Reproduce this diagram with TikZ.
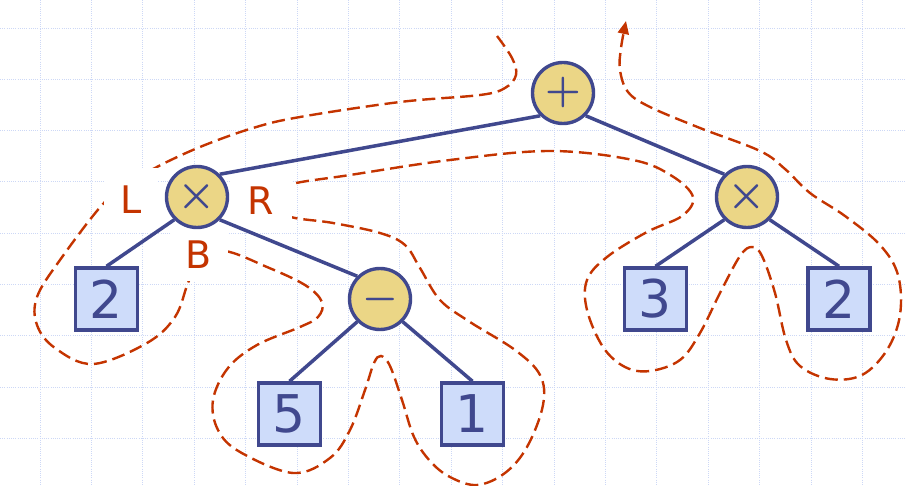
\documentclass[tikz,border=0pt]{standalone}
\usepackage{fontspec}
\newfontfamily\dv{DejaVu Sans}
\usetikzlibrary{arrows.meta}
\definecolor{navy}{RGB}{64,72,142}
\definecolor{opfill}{RGB}{235,214,134}
\definecolor{leaffill}{RGB}{206,220,250}
\definecolor{tour}{RGB}{196,52,0}
\definecolor{gridc}{RGB}{205,216,246}
\begin{document}
\begin{tikzpicture}[x=1pt,y=-1pt,
 opnode/.style={circle,draw=navy,fill=opfill,line width=3.4pt,minimum size=61pt,inner sep=0pt,text=navy},
 leafnode/.style={rectangle,draw=navy,fill=leaffill,line width=3.4pt,minimum size=62pt,inner sep=0pt,text=navy,font=\dv\fontsize{52}{52}\selectfont},
 treeedge/.style={navy,line width=3.5pt},
 lbl/.style={fill=white,text=tour,inner sep=0pt,font=\dv\fontsize{38}{38}\selectfont},
 tourline/.style={tour,line width=2.4pt,dash pattern=on 13pt off 6pt},
 gridline/.style={gridc,line width=0.9pt,dash pattern=on 1pt off 1.2pt}]
\useasboundingbox (0,0) rectangle (905,486);
\fill[white] (0,0) rectangle (905,486);
\foreach \i in {0,...,16} \draw[gridline] ({40+51.4*\i},0) -- ({40+51.4*\i},486);
\foreach \j in {0,...,8} \draw[gridline] (0,{28+51.3*\j}) -- (905,{28+51.3*\j});

\draw[tourline,-{Triangle[length=13pt,width=11pt]}] plot[smooth,tension=0.6] coordinates {
(497,36) (512,58) (516,75) (505,88) (480,95) (400,102) (300,117) (253,128) (200,147) (155,168)
(130,184) (103,204) (60,260) (37,297) (37,325) (55,348) (93,364) (147,343) (175,317) (188,283)
(200,258) (225,251) (267,267) (305,285) (322,302) (318,317) (300,327) (257,345) (228,368) (213,400)
(218,430) (240,452) (293,473) (330,458) (350,430) (365,390) (374,363) (381,356) (390,366) (402,400)
(414,437) (430,461) (450,477) (477,485) (505,473) (527,447) (543,405) (540,375) (515,350) (470,322)
(440,300) (420,268) (405,245) (380,233) (333,223) (287,216) (265,200) (288,185) (350,175) (450,160)
(550,151) (633,160) (672,176) (693,197) (682,216) (647,232) (607,257) (587,280) (587,310) (603,347)
(625,367) (650,371) (680,360) (700,333) (720,293) (740,256) (752,247) (762,256) (775,293) (786,340)
(800,366) (830,379) (862,375) (887,350) (900,315) (898,275) (880,245) (845,216) (810,193) (785,169)
(760,151) (700,128) (650,107) (628,92) (620,70) (621,48) (626,21)};

\node[lbl,minimum width=54pt,minimum height=64pt] (L) at (131,200) {L};
\node[lbl,minimum width=62pt,minimum height=62pt] (R) at (261,201) {R};
\node[lbl,minimum width=58pt,minimum height=52pt] (B) at (199,255) {B};

\node[opnode] (plus) at (563,93) {\scalebox{4}{\boldmath$+$}};
\node[opnode] (tl) at (197,197) {\scalebox{4.3}{\boldmath$\times$}};
\node[opnode] (tr) at (747,197) {\scalebox{4.3}{\boldmath$\times$}};
\node[opnode] (minus) at (380,299) {\scalebox{4}{\boldmath$-$}};
\node[leafnode] (l2) at (106.5,299) {2};
\node[leafnode] (l5) at (289.5,414) {5};
\node[leafnode] (l1) at (472.5,414) {1};
\node[leafnode] (l3) at (655.5,299) {3};
\node[leafnode] (r2) at (839,299) {2};

\draw[treeedge] (plus.225) -- (tl.45);
\draw[treeedge] (plus.315) -- (tr.135);
\draw[treeedge] (tl.225) -- (l2.north);
\draw[treeedge] (tl.315) -- (minus.135);
\draw[treeedge] (minus.225) -- (l5.north);
\draw[treeedge] (minus.315) -- (l1.north);
\draw[treeedge] (tr.225) -- (l3.north);
\draw[treeedge] (tr.315) -- (r2.north);
\end{tikzpicture}
\end{document}
